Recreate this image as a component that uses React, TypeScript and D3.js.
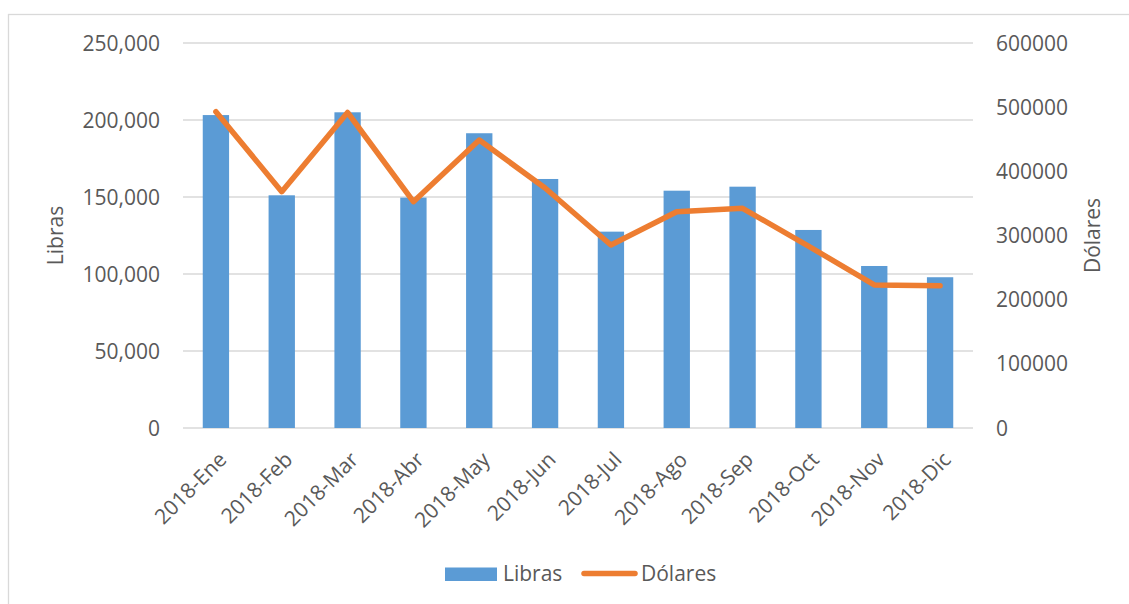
import React from 'react';
import * as d3 from 'd3';

const months = ['2018-Ene', '2018-Feb', '2018-Mar', '2018-Abr', '2018-May', '2018-Jun', '2018-Jul', '2018-Ago', '2018-Sep', '2018-Oct', '2018-Nov', '2018-Dic'];
const libras = [203200, 151100, 205000, 149600, 191400, 161700, 127500, 154100, 156700, 128600, 105200, 97900];
const dolares = [492900, 368300, 491700, 352700, 448800, 374000, 285200, 337100, 342400, 283600, 222900, 221800];
const leftTicks = [0, 50000, 100000, 150000, 200000, 250000];
const rightTicks = [0, 100000, 200000, 300000, 400000, 500000, 600000];

const W = 1129;
const H = 604;
const font = '"Open Sans", sans-serif';
const textColor = '#595959';

export default function App() {
  const margin = { top: 43, right: 156, bottom: 176, left: 183 };
  const x = d3.scaleBand().domain(months).range([margin.left, W - margin.right]).paddingInner(0.6).paddingOuter(0.3);
  const xc = (m: string) => (x(m) as number) + x.bandwidth() / 2;
  const yL = d3.scaleLinear().domain([0, 250000]).range([H - margin.bottom, margin.top]);
  const yR = d3.scaleLinear().domain([0, 600000]).range([H - margin.bottom, margin.top]);
  const fmt = d3.format(',');

  const line = d3.line<number>()
    .x((_, i) => xc(months[i]))
    .y(d => yR(d));

  return (
    <svg width={W} height={H} style={{ display: 'block', position: 'absolute', left: 0, top: 0 }} fontFamily={font}>
      <style>{'body{margin:0}'}</style>
      <rect x={8.5} y={14.5} width={1200} height={700} fill="white" stroke="#d9d9d9" strokeWidth={1.3} />

      {/* gridlines */}
      {leftTicks.map(t => (
        <line key={t} x1={margin.left} x2={W - margin.right} y1={yL(t)} y2={yL(t)}
          stroke="#d9d9d9" strokeWidth={t === 0 ? 1.6 : 1.3} />
      ))}

      {/* bars */}
      {libras.map((v, i) => (
        <rect key={months[i]} x={x(months[i])} y={yL(v)} width={x.bandwidth()} height={yL(0) - yL(v)} fill="#5b9bd5" />
      ))}

      {/* line */}
      <path d={line(dolares) || ''} fill="none" stroke="#ed7d31" strokeWidth={5.5} strokeLinejoin="round" strokeLinecap="round" />

      {/* left axis */}
      {leftTicks.map(t => (
        <text key={t} x={160} y={yL(t)} dy="0.36em" textAnchor="end" fontSize={21} fill={textColor}>{fmt(t)}</text>
      ))}
      {/* right axis */}
      {rightTicks.map(t => (
        <text key={t} x={996} y={yR(t)} dy="0.36em" textAnchor="start" fontSize={21} fill={textColor}>{t}</text>
      ))}

      {/* x labels */}
      {months.map(m => (
        <text key={m} transform={`translate(${xc(m) + 12},${461}) rotate(-45)`} textAnchor="end" fontSize={21} fill={textColor}>{m}</text>
      ))}

      {/* axis titles */}
      <text transform={`translate(63,${yL(125000)}) rotate(-90)`} textAnchor="middle" fontSize={21} fill={textColor}>Libras</text>
      <text transform={`translate(1100,${yL(125000)}) rotate(-90)`} textAnchor="middle" fontSize={21} fill={textColor}>Dólares</text>

      {/* legend */}
      <rect x={445} y={567.5} width={52} height={13.5} fill="#5b9bd5" />
      <text x={503} y={581} fontSize={21} fill={textColor}>Libras</text>
      <line x1={584} x2={635} y1={573.5} y2={573.5} stroke="#ed7d31" strokeWidth={5.5} strokeLinecap="round" />
      <text x={641} y={581} fontSize={21} fill={textColor}>Dólares</text>
    </svg>
  );
}
